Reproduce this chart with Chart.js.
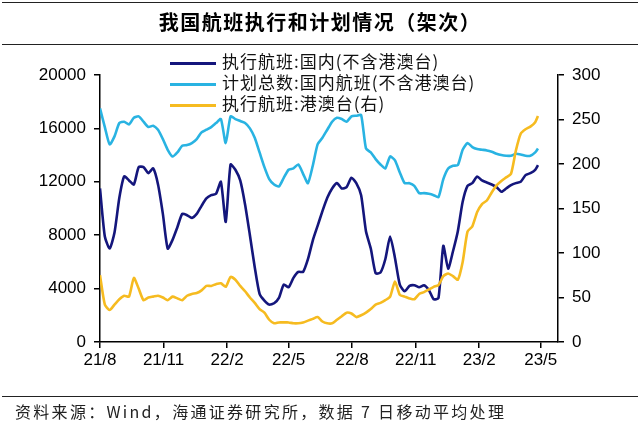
<!DOCTYPE html>
<html lang="zh-CN">
<head>
  <meta charset="UTF-8" />
  <meta name="viewport" content="width=device-width, initial-scale=1.0"/>
  <title>我国航班执行和计划情况</title>
  <script src="https://cdn.jsdelivr.net/npm/chart.js"></script>
  <style>
    body { margin: 0; background: #fff; }
    #wrap { position: relative; width: 640px; height: 429px; overflow: hidden; font-family: "Noto Sans CJK SC", sans-serif; color: #000; }
    #flights { position: absolute; left: 0; top: 0; }
    .rule { position: absolute; left: 2px; width: 636px; border-top: 1.6px solid #222; }
    #title { position: absolute; top: 7px; left: 0; width: 640px; text-align: center; font-size: 20px; font-weight: 700; letter-spacing: 1.5px; }
    #legend { position: absolute; left: 170px; top: 50px; font-size: 17px; line-height: 21px; letter-spacing: 1px; color: #111; }
    #legend .swatch { display: inline-block; width: 46px; height: 3px; vertical-align: middle; margin-right: 6px; }
    #source { position: absolute; left: 15px; top: 399px; font-size: 16px; letter-spacing: 2.3px; color: #222; }
  </style>
</head>
<body>
  <div id="wrap">
    <canvas id="flights" width="640" height="429"></canvas>
    <div class="rule" style="top:2px"></div>
    <div id="title">我国航班执行和计划情况（架次）</div>
    <div class="rule" style="top:44px"></div>
    <div id="legend"></div>
    <div class="rule" style="top:396px"></div>
    <div id="source">资料来源：Wind，海通证券研究所，数据 7 日移动平均处理</div>
  </div>

  <script>
    // days since 2021-08-01, roughly one point a week
    const days = [0, 7, 14, 21, 28, 35, 42, 49, 56, 63, 70, 77, 84, 91, 98, 105, 112, 119, 126, 133,
      140, 147, 154, 161, 168, 175, 182, 189, 196, 203, 210, 217, 224, 231, 238, 245, 252, 259, 266, 273,
      280, 287, 294, 301, 308, 315, 322, 329, 336, 343, 350, 357, 364, 371, 378, 385, 392, 399, 406, 413,
      420, 427, 434, 441, 448, 455, 462, 469, 476, 483, 490, 497, 504, 511, 518, 525, 532, 539, 546, 553,
      560, 567, 574, 581, 588, 595, 602, 609, 616, 623, 630, 634];

    const tickDays = [0, 92, 184, 273, 365, 457, 549, 638];
    const tickLabels = ['21/8', '21/11', '22/2', '22/5', '22/8', '22/11', '23/2', '23/5'];

    // 执行航班:国内(不含港澳台)
    const domesticFlown = [11500, 7900, 7000, 8200, 10800, 12400, 12100, 11800, 13100, 13100,
      12650, 13000, 11800, 9600, 7000, 7650, 8600, 9600, 9500, 9300,
      9600, 10200, 10750, 11000, 11100, 12000, 9000, 13300, 12900, 12100,
      10300, 8000, 5600, 3600, 3100, 2800, 2900, 3300, 4300, 4100,
      4800, 5250, 5250, 6200, 7600, 8700, 9800, 10800, 11500, 11900,
      11500, 11600, 12300, 11900, 11000, 8300, 7000, 5150, 5200, 6200,
      7900, 6300, 4300, 3800, 4200, 4250, 4100, 4250, 3900, 3200,
      3300, 7200, 5500, 6800, 8300, 10500, 11700, 11900, 12400, 12100,
      11950, 11800, 11600, 11250, 11500, 11750, 11900, 12000, 12500, 12650,
      12900, 13250];

    // 计划总数:国内航班(不含港澳台)
    const domesticPlanned = [17500, 16100, 14800, 15400, 16400, 16500, 16300, 16800, 16900, 16500,
      16100, 16200, 15900, 15200, 14400, 13900, 14200, 14700, 14750, 14900,
      15200, 15700, 15900, 16100, 16400, 16700, 14900, 16900, 16700, 16550,
      16400, 16000, 15300, 14200, 13100, 12200, 11800, 11650, 12300, 12900,
      13000, 13300, 12600, 11900, 13200, 14800, 15300, 15900, 16500, 16800,
      16700, 16500, 16900, 16950, 17000, 14500, 14200, 13700, 13300, 13000,
      13900, 13600, 12700, 11900, 11900, 11700, 11150, 11150, 11100, 11000,
      10850, 12200, 13000, 13200, 13250, 14400, 14900, 14600, 14450, 14400,
      14350, 14250, 14100, 14000, 13950, 13950, 14100, 14050, 13950, 13950,
      14200, 14500];

    // 执行航班:港澳台(右)
    const hkMacauTaiwan = [75, 42, 36, 42, 48, 52, 51, 72, 60, 47,
      50, 51, 52, 50, 47, 51, 49, 47, 52, 54,
      55, 58, 63, 63, 65, 66, 62, 73, 70, 63,
      57, 50, 44, 37, 33, 25, 21, 22, 22, 22,
      21, 21, 22, 24, 26, 28, 23, 21, 21, 25,
      29, 33, 32, 28, 30, 33, 37, 42, 44, 47,
      51, 68, 53, 51, 49, 48, 54, 56, 59, 62,
      64, 74, 77, 74, 70, 90, 124, 130, 146, 155,
      159, 168, 176, 181, 185, 189, 215, 234, 239, 242,
      247, 254];

    const series = [
      { label: '执行航班:国内(不含港澳台)', values: domesticFlown, color: '#14167c', axis: 'y', order: 1 },
      { label: '计划总数:国内航班(不含港澳台)', values: domesticPlanned, color: '#29b3e2', axis: 'y', order: 2 },
      { label: '执行航班:港澳台(右)', values: hkMacauTaiwan, color: '#f6bb20', axis: 'y2', order: 0 }
    ];

    const legend = document.getElementById('legend');
    series.forEach(s => {
      const row = document.createElement('div');
      row.innerHTML = `<span class="swatch" style="background:${s.color}"></span>${s.label}`;
      legend.appendChild(row);
    });

    const tickFont = { family: '"Liberation Sans", Arial, sans-serif', size: 17 };
    const axisGrid = { drawOnChartArea: false, color: '#000', lineWidth: 1.5, tickLength: 6 };
    const axisBorder = { color: '#000', width: 1.5 };

    new Chart(document.getElementById('flights').getContext('2d'), {
      type: 'line',
      data: {
        datasets: series.map(s => ({
          label: s.label,
          data: days.map((d, i) => ({ x: d, y: s.values[i] })),
          yAxisID: s.axis,
          order: s.order,
          borderColor: s.color,
          borderWidth: 2.6,
          pointRadius: 0,
          tension: 0.2,
          fill: false
        }))
      },
      options: {
        responsive: false,
        animation: false,
        layout: { padding: { top: 75, left: 0, right: 0, bottom: 0 } },
        plugins: { legend: { display: false }, tooltip: { enabled: false } },
        scales: {
          x: {
            type: 'linear', min: 0, max: 663,
            afterBuildTicks: s => { s.ticks = tickDays.map(v => ({ value: v })); },
            afterFit: s => { s.height = 87; },
            ticks: { callback: (v, i) => tickLabels[i], font: tickFont, color: '#000', padding: 2, maxRotation: 0, autoSkip: false },
            grid: axisGrid, border: axisBorder
          },
          y: {
            position: 'left', min: 0, max: 20000,
            afterFit: s => { s.width = 100; },
            ticks: { stepSize: 4000, callback: v => String(v), font: tickFont, color: '#000', padding: 8 },
            grid: axisGrid, border: axisBorder
          },
          y2: {
            position: 'right', min: 0, max: 300,
            afterFit: s => { s.width = 82; },
            ticks: { stepSize: 50, font: tickFont, color: '#000', padding: 8 },
            grid: axisGrid, border: axisBorder
          }
        }
      }
    });
  </script>
</body>
</html>
